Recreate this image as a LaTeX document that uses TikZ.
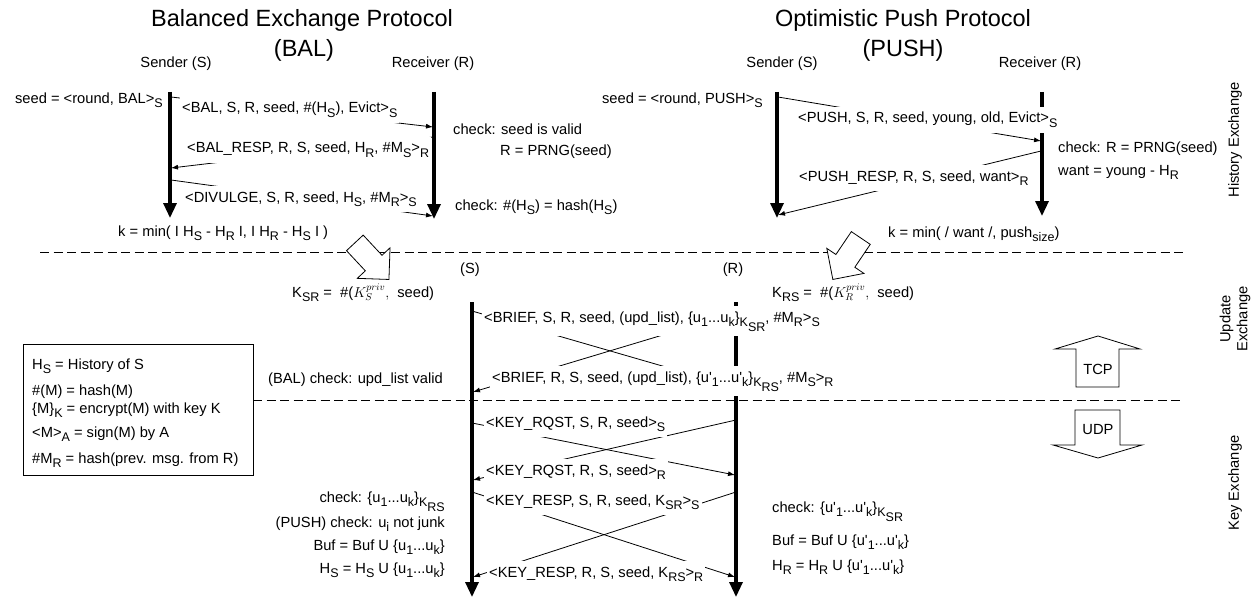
\documentclass[tikz,border=0pt]{standalone}
\usepackage{fontspec}
\setmainfont{Liberation Sans}
\usetikzlibrary{arrows.meta,shapes.arrows}
\newcommand\sbx[1]{\raisebox{-4.5pt}{\fontsize{12.5}{12.5}\selectfont #1}}
\newcommand\upr{u\textquotesingle}
\begin{document}
\begin{tikzpicture}[x=1pt,y=-1pt,
  txt/.style={font=\fontsize{14.7}{17}\selectfont, inner sep=0pt},
  lbl/.style={txt, fill=white, inner xsep=2pt, inner ysep=5pt, anchor=base west},
  lw/.style={txt, anchor=base west},
  le/.style={txt, anchor=base east},
  lc/.style={txt, anchor=base},
  ttl/.style={font=\fontsize{23.5}{27}\selectfont, inner sep=0pt, anchor=base},
  life/.style={line width=3.2pt, -{Triangle[length=15pt,width=13pt]}},
  msg/.style={line width=0.8pt, -{Latex[length=7pt,width=5pt]}},
  sepline/.style={line width=0.8pt, dash pattern=on 9pt off 4.5pt},
  fat/.style={draw, line width=0.8pt, fill=white, single arrow, single arrow head extend=11pt, inner sep=11pt, minimum height=50pt},
  side/.style={txt, rotate=90, align=center}
]
\useasboundingbox (0,0) rectangle (1260,599);

% separators
\coordinate (d1a) at (40,252);  \coordinate (d1b) at (1185,252);
\coordinate (d2a) at (253,400); \coordinate (d2b) at (1180,400);
\draw[sepline] (d1a) -- (d1b);
\draw[sepline] (d2a) -- (d2b);

% titles
\node[ttl] (t1) at (302,27) {Balanced Exchange Protocol};
\node[ttl] (t1b) at (304,57) {(BAL)};
\node[ttl] (t2) at (903,27) {Optimistic Push Protocol};
\node[ttl] (t2b) at (903,57) {(PUSH)};
\node[lc] (bsn) at (176,68) {Sender (S)};
\node[lc] (brn) at (433,68) {Receiver (R)};
\node[lc] (psn) at (782,68) {Sender (S)};
\node[lc] (prn) at (1040,68) {Receiver (R)};

% lifelines
\coordinate (bs0) at (170,92);  \coordinate (bs1) at (170,218);
\coordinate (br0) at (434,92);  \coordinate (br1) at (434,219);
\coordinate (ps0) at (777,92);  \coordinate (ps1) at (777,218);
\coordinate (pr0) at (1042,92); \coordinate (pr1) at (1042,216);
\coordinate (ms0) at (472,302); \coordinate (ms1) at (472,597);
\coordinate (mr0) at (736,302); \coordinate (mr1) at (736,597);
\foreach \a/\b in {bs0/bs1,br0/br1,ps0/ps1,pr0/pr1,ms0/ms1,mr0/mr1}
  \draw[life] (\a) -- (\b);

% message end points
\coordinate (m1a) at (171,97);  \coordinate (m1b) at (433,127);
\coordinate (m2a) at (433,137); \coordinate (m2b) at (171,168);
\coordinate (m3a) at (171,180); \coordinate (m3b) at (433,216);
\coordinate (m4a) at (778,97);  \coordinate (m4b) at (1041,141);
\coordinate (m5a) at (1041,151);\coordinate (m5b) at (778,215);
\coordinate (m6a) at (472,311); \coordinate (m6b) at (735,387);
\coordinate (m7a) at (736,313); \coordinate (m7b) at (473,392);
\coordinate (m8a) at (472,423); \coordinate (m8b) at (735,475);
\coordinate (m9a) at (736,420); \coordinate (m9b) at (473,480);
\coordinate (m10a) at (472,492);\coordinate (m10b) at (735,577);
\coordinate (m11a) at (736,492);\coordinate (m11b) at (473,577);
\foreach \i in {1,...,11}
  \draw[msg] (m\i a) -- (m\i b);

% BAL labels
\node[le] (bseed) at (163,103) {seed = <round, BAL>\sbx{S}};
\node[lbl] (l1) at (180,113) {<BAL, S, R, seed, \#(H\sbx{S}), Evict>\sbx{S}};
\node[lbl] (l2) at (185,153) {<BAL\_RESP, R, S, seed, H\sbx{R}, \#M\sbx{S}>\sbx{R}};
\node[lbl] (l3) at (183,202) {<DIVULGE, S, R, seed, H\sbx{S}, \#M\sbx{R}>\sbx{S}};
\node[lw] (bc1) at (453,135) {check: seed is valid};
\node[lw] (bc2) at (500,155) {R = PRNG(seed)};
\node[lw] (bc3) at (455,210) {check: \#(H\sbx{S}) = hash(H\sbx{S})};
\node[lw] (bk) at (118,236) {k = min( I H\sbx{S} - H\sbx{R} I, I H\sbx{R} - H\sbx{S} I )};

% PUSH labels
\node[le] (pseed) at (763,103) {seed = <round, PUSH>\sbx{S}};
\node[lbl] (l4) at (796,123) {<PUSH, S, R, seed, young, old, Evict>\sbx{S}};
\node[lbl] (l5) at (797,181) {<PUSH\_RESP, R, S, seed, want>\sbx{R}};
\node[lw] (pc1) at (1058,152) {check: R = PRNG(seed)};
\node[lw] (pc2) at (1058,175) {want = young - H\sbx{R}};
\node[lw] (pk) at (888,237) {k = min( / want /, push\sbx{size})};

% fat arrows
\node[fat, rotate=-47] (fa1) at (368,257) {};
\node[fat, rotate=-124] (fa2) at (850,254) {};

% middle
\node[lc] (ms) at (470,273) {(S)};
\node[lc] (mr) at (733,273) {(R)};
\node[lw] (ksr) at (292,297) {K\sbx{SR} = \ \#($K_S^{priv},$\ \ seed)};
\node[lw] (krs) at (772,297) {K\sbx{RS} = \ \#($K_R^{priv},$\ \ seed)};

\node[lbl] (l6) at (482,322) {<BRIEF, S, R, seed, (upd\_list), \{u\sbx{1}...u\sbx{k}\}\sbx{K\sbx{SR}}, \#M\sbx{R}>\sbx{S}};
\node[lbl] (l7) at (490,382) {<BRIEF, R, S, seed, (upd\_list), \{\upr\sbx{1}...\upr\sbx{k}\}\sbx{K\sbx{RS}}, \#M\sbx{S}>\sbx{R}};
\node[le] (bal) at (443,383) {(BAL) check: upd\_list valid};

\node[lbl] (l8) at (484,427) {<KEY\_RQST, S, R, seed>\sbx{S}};
\node[lbl] (l9) at (484,475) {<KEY\_RQST, R, S, seed>\sbx{R}};
\node[lbl] (l10) at (484,505) {<KEY\_RESP, S, R, seed, K\sbx{SR}>\sbx{S}};
\node[lbl] (l11) at (487,577) {<KEY\_RESP, R, S, seed, K\sbx{RS}>\sbx{R}};

% left checks
\node[le] (lc1) at (445,502) {check: \{u\sbx{1}...u\sbx{k}\}\sbx{K\sbx{RS}}};
\node[le] (lc2) at (445,527) {(PUSH) check: u\sbx{i} not junk};
\node[le] (lc3) at (445,550) {Buf = Buf U \{u\sbx{1}...u\sbx{k}\}};
\node[le] (lc4) at (445,573) {H\sbx{S} = H\sbx{S} U \{u\sbx{1}...u\sbx{k}\}};

% right checks
\node[lw] (rc1) at (772,512) {check: \{\upr\sbx{1}...\upr\sbx{k}\}\sbx{K\sbx{SR}}};
\node[lw] (rc2) at (772,545) {Buf = Buf U \{\upr\sbx{1}...\upr\sbx{k}\}};
\node[lw] (rc3) at (772,570) {H\sbx{R} = H\sbx{R} U \{\upr\sbx{1}...\upr\sbx{k}\}};

% legend
\draw[line width=0.8pt] (23,344) rectangle (253,475);
\node[lw] (g1) at (32,369) {H\sbx{S} = History of S};
\node[lw] (g2) at (32,395) {\#(M) = hash(M)};
\node[lw] (g3) at (32,413) {\{M\}\sbx{K} = encrypt(M) with key K};
\node[lw] (g4) at (32,437) {<M>\sbx{A} = sign(M) by A};
\node[lw] (g5) at (32,463) {\#M\sbx{R} = hash(prev. msg. from R)};

% TCP / UDP
\draw[line width=0.8pt, fill=white] (1076,387) -- (1076,349) -- (1055,349) -- (1098,336) -- (1140,349) -- (1119,349) -- (1119,387) -- cycle;
\node[txt] (tcp) at (1098,369) {TCP};
\draw[line width=0.8pt, fill=white] (1075,410) -- (1075,445) -- (1053,445) -- (1098,458) -- (1142,445) -- (1120,445) -- (1120,410) -- cycle;
\node[txt] (udp) at (1098,430) {UDP};

% side labels
\node[side] (hx) at (1235,140) {History Exchange};
\node[side] (ux) at (1235,319) {Update\\Exchange};
\node[side] (kx) at (1235,483) {Key Exchange};
\end{tikzpicture}
\end{document}
